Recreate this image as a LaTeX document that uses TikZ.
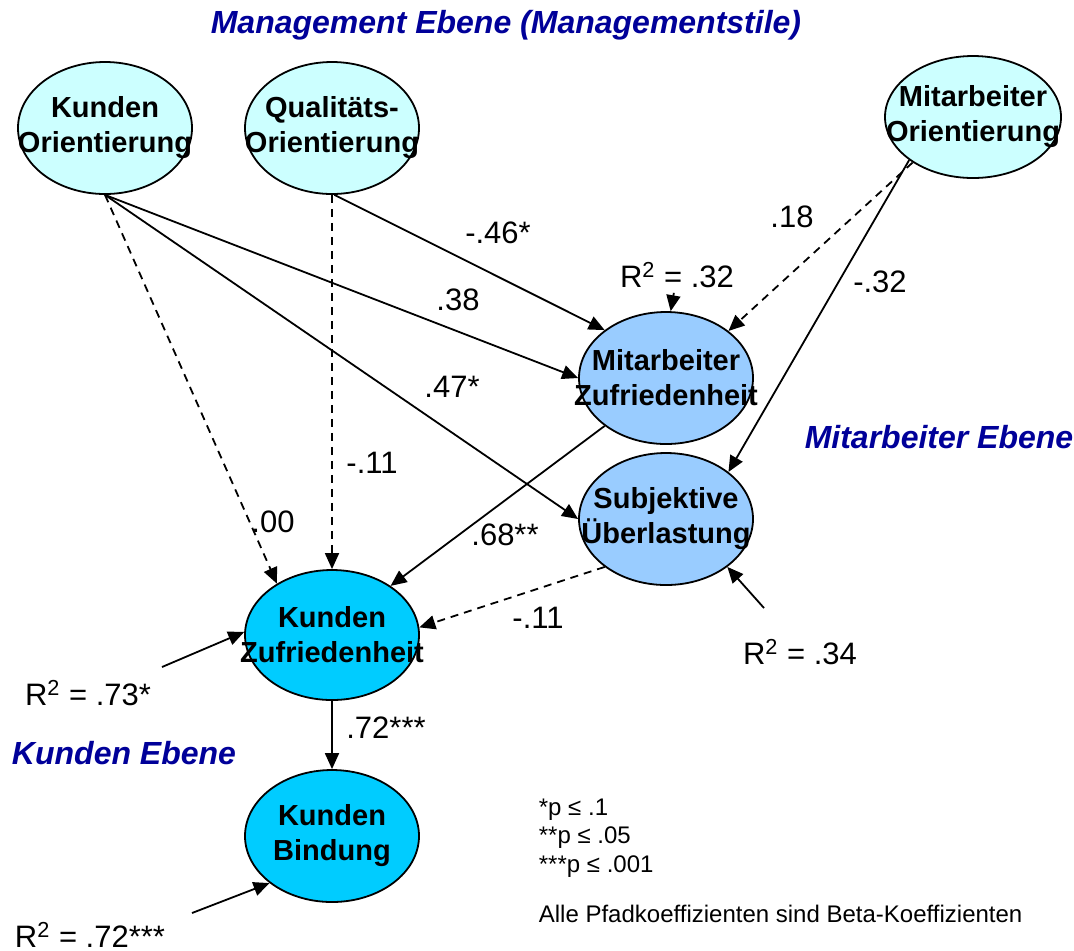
\documentclass[tikz,border=0pt]{standalone}
\usepackage{fontspec}
\setmainfont{Liberation Sans}
\usepackage{tikz}
\usetikzlibrary{arrows.meta, shapes.geometric}

\definecolor{hellcyan}{HTML}{CCFFFF}
\definecolor{hellblau}{HTML}{99CCFF}
\definecolor{kundenblau}{HTML}{00CCFF}
\definecolor{ebenenblau}{HTML}{000099}

\begin{document}
\begin{tikzpicture}[x=0.5pt, y=-0.5pt, line width=0.9pt,
      ell/.style={ellipse, draw, line width=0.9pt, minimum width=87pt, minimum height=66pt, inner sep=0pt},
      txt/.style={font=\bfseries\fontsize{14.5}{17.5}\selectfont, align=center, inner sep=0pt},
      pfad/.style={-{Triangle[length=8pt, width=7pt]}},
      ns/.style={pfad, dash pattern=on 4pt off 3pt},
      koef/.style={font=\fontsize{15.5}{18}\selectfont, inner sep=2pt},
      ebene/.style={font=\bfseries\itshape\fontsize{16}{19}\selectfont, text=ebenenblau},
      legende/.style={font=\fontsize{12}{14}\selectfont, anchor=base west, inner sep=0pt}]

    \useasboundingbox (0,0) rectangle (1074,950);

    % Ebenen
    \node[ebene] (tManagement) at (506,25)  {Management Ebene (Managementstile)};
    \node[ebene] (tMitarbeiter) at (939,437) {Mitarbeiter Ebene};
    \node[ebene] (tKunden) at (124,753) {Kunden Ebene};

    % Konstrukte
    \node[ell, fill=hellcyan, label={[txt]center:Kunden\\Orientierung}] (KO) at (105,128) {};
    \node[ell, fill=hellcyan, label={[txt]center:Qualitäts-\\Orientierung}] (QO) at (332,128) {};
    \node[ell, fill=hellcyan, minimum width=88pt, minimum height=61pt,
          label={[txt]center:Mitarbeiter\\Orientierung}] (MO) at (973,117) {};
    \node[ell, fill=hellblau, label={[txt]center:Mitarbeiter\\Zufriedenheit}] (MZ) at (666,378) {};
    \node[ell, fill=hellblau, label={[txt]center:Subjektive\\Überlastung}] (SU) at (666,519) {};
    \node[ell, fill=kundenblau, minimum height=65pt, label={[txt]center:Kunden\\Zufriedenheit}] (KZ) at (332,635) {};
    \node[ell, fill=kundenblau, label={[txt]center:Kunden\\Bindung}] (KB) at (332,836) {};

    % Pfade
    \draw[pfad] (QO.-88) -- (MZ.142);
    \draw[pfad] (KO.south) -- (MZ.180);
    \draw[pfad] (KO.south) -- (SU.180);
    \draw[ns]   (KO.south) -- (KZ.137);
    \draw[ns]   (QO.south) -- (KZ.north);
    \draw[ns]   (MO.217) -- (MZ.37);
    \draw[pfad] (MO.214) -- (SU.37);
    \draw[pfad] (MZ.218) -- (KZ.40);
    \draw[ns]   (SU.218) -- (KZ.5);
    \draw[pfad] (KZ) -- (KB);

    % Koeffizienten
    \node[koef] (k46) at (498,233) {-.46*};
    \node[koef] (k38) at (458,300) {.38};
    \node[koef] (k47) at (452,387) {.47*};
    \node[koef] (k18) at (792,217) {.18};
    \node[koef] (k32) at (880,282) {-.32};
    \node[koef] (k11a) at (372,463) {-.11};
    \node[koef] (k00) at (273,522) {.00};
    \node[koef] (k68) at (505,535) {.68**};
    \node[koef] (k11b) at (538,618) {-.11};
    \node[koef] (k72) at (386,728) {.72***};

    % erklaerte Varianz
    \node[koef] (r32) at (677,275) {R\textsuperscript{2} = .32};
    \node[koef] (r34) at (800,652) {R\textsuperscript{2} = .34};
    \node[koef] (r73) at (88,693)  {R\textsuperscript{2} = .73*};
    \node[koef] (r72) at (90,935)  {R\textsuperscript{2} = .72***};
    \coordinate (c34) at (764,608);
    \coordinate (c73) at (162,667);
    \coordinate (c72) at (192,913);
    \draw[pfad] (r32) -- (MZ.86);
    \draw[pfad] (c34) -- (SU.322);
    \draw[pfad] (c73) -- (KZ.178);
    \draw[pfad] (c72) -- (KB.217);

    % Legende
    \node[legende] (p1) at (538,815) {*p ≤ .1};
    \node[legende] (p2) at (538,843) {**p ≤ .05};
    \node[legende] (p3) at (538,872) {***p ≤ .001};
    \node[legende] (beta) at (538,922) {Alle Pfadkoeffizienten sind Beta-Koeffizienten};

\end{tikzpicture}
\end{document}
